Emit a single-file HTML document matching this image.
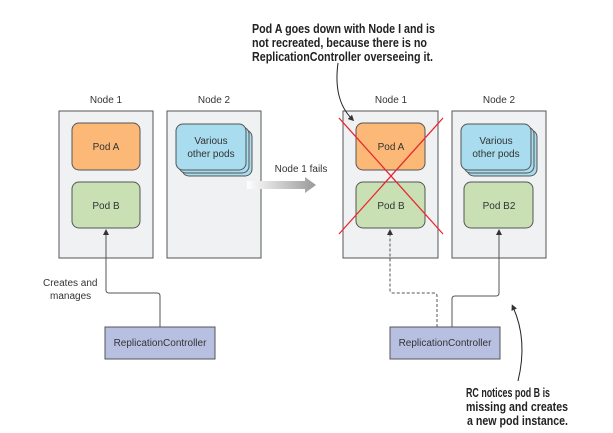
<!DOCTYPE html>
<html><head><meta charset="utf-8"><style>
html,body{margin:0;padding:0;background:#fff;}
svg{display:block;font-family:"Liberation Sans",sans-serif;}
</style></head><body>
<svg width="613" height="433" viewBox="0 0 613 433" xmlns="http://www.w3.org/2000/svg">
<defs>
<linearGradient id="g" x1="0" x2="1"><stop offset="0" stop-color="#fff"/><stop offset="1" stop-color="#999"/></linearGradient>
<marker id="a" markerWidth="6" markerHeight="6" refX="3" refY="3" orient="auto"><path d="M0,0 L6,3 L0,6z" fill="#333"/></marker>
</defs>
<g font-size="10" fill="#333" text-anchor="middle">
<text x="106" y="103">Node 1</text><text x="214" y="103">Node 2</text>
<text x="391" y="103">Node 1</text><text x="499" y="103">Node 2</text>
</g>
<g fill="#f0f1f3" stroke="#555" stroke-width="1">
<rect x="59" y="111" width="94" height="147"/><rect x="167" y="111" width="94" height="147"/>
<rect x="343" y="111" width="95" height="147"/><rect x="452" y="111" width="94" height="147"/>
</g>
<g stroke="#555" stroke-width="1">
<rect x="72" y="123" width="68" height="47" rx="7" fill="#fbb877"/>
<rect x="72" y="182" width="68" height="46" rx="7" fill="#c9e0b5"/>
<rect x="356" y="123" width="69" height="47" rx="7" fill="#fbb877"/>
<rect x="356" y="182" width="69" height="46" rx="7" fill="#c9e0b5"/>
<rect x="464" y="182" width="69" height="46" rx="7" fill="#c9e0b5"/>
<rect x="182" y="130" width="70" height="46" rx="7" fill="#a8dcee"/>
<rect x="179" y="127" width="70" height="46" rx="7" fill="#a8dcee"/>
<rect x="176" y="124" width="70" height="46" rx="7" fill="#a8dcee"/>
<rect x="467" y="130" width="70" height="46" rx="7" fill="#a8dcee"/>
<rect x="464" y="127" width="70" height="46" rx="7" fill="#a8dcee"/>
<rect x="461" y="124" width="70" height="46" rx="7" fill="#a8dcee"/>
<rect x="105" y="327" width="110" height="32" fill="#b8c0e2"/>
<rect x="390" y="327" width="110" height="32" fill="#b8c0e2"/>
</g>
<g font-size="10" fill="#333" text-anchor="middle">
<text x="106" y="150">Pod A</text><text x="106" y="209">Pod B</text>
<text x="391" y="150">Pod A</text><text x="391" y="209">Pod B</text><text x="499" y="209">Pod B2</text>
<text x="211" y="144">Various</text><text x="211" y="157">other pods</text>
<text x="496" y="144">Various</text><text x="496" y="157">other pods</text>
<text x="160" y="346">ReplicationController</text><text x="445" y="346">ReplicationController</text>
<text x="301" y="172">Node 1 fails</text>
</g>
<text x="43" y="286" font-size="10" fill="#333">Creates and</text>
<text x="50" y="299" font-size="10" fill="#333">manages</text>
<path d="M247,181 H305 V177 L316,185 L305,193 V189 H247z" fill="url(#g)"/>
<g fill="none" stroke="#555" stroke-width="1">
<path d="M160,327 V296 Q160,293 157,293 H109 Q106,293 106,290 V232" marker-end="url(#a)"/>
<path d="M437,327 V296 Q437,293 434,293 H393 Q390,293 390,290 V232" stroke-dasharray="3,2" marker-end="url(#a)"/>
<path d="M452,327 V299 Q452,296 455,296 H496 Q499,296 499,293 V232" marker-end="url(#a)"/>
<path d="M338,63 Q333,100 352,119" stroke="#222" marker-end="url(#a)"/>
<path d="M518,381 Q528,340 513,307" stroke="#222" marker-end="url(#a)"/>
</g>
<g stroke="#e8282e" stroke-width="1.3">
<line x1="339" y1="118" x2="443" y2="234"/><line x1="443" y1="118" x2="339" y2="234"/>
</g>
<g font-size="12.5" font-weight="bold" fill="#222">
<text x="252" y="33" textLength="183" lengthAdjust="spacingAndGlyphs">Pod A goes down with Node I and is</text>
<text x="252" y="47" textLength="175" lengthAdjust="spacingAndGlyphs">not recreated, because there is no</text>
<text x="252" y="61" textLength="181" lengthAdjust="spacingAndGlyphs">ReplicationController overseeing it.</text>
<text x="466" y="397" textLength="84" lengthAdjust="spacingAndGlyphs">RC notices pod B is</text>
<text x="466" y="411" textLength="102" lengthAdjust="spacingAndGlyphs">missing and creates</text>
<text x="467" y="425" textLength="101" lengthAdjust="spacingAndGlyphs">a new pod instance.</text>
</g>
</svg>
</body></html>
